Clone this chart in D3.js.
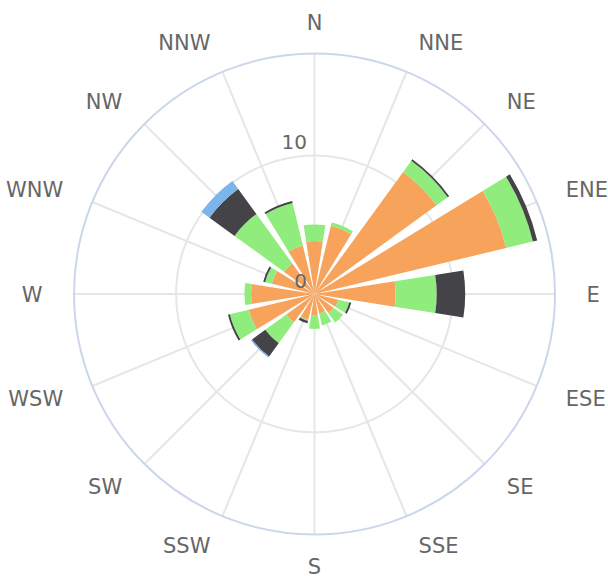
<!DOCTYPE html>
<html>
<head>
<meta charset="utf-8">
<script src="https://cdn.jsdelivr.net/npm/d3@7"></script>
<style>
body { margin: 0; background: #fff; }
svg { display: block; font-family: "DejaVu Sans", sans-serif; }
</style>
</head>
<body>
<svg></svg>
<script>
const directions = ["N", "NNE", "NE", "ENE", "E", "ESE", "SE", "SSE",
    "S", "SSW", "SW", "WSW", "W", "WNW", "NW", "NNW"];
// series stacked from the centre outwards
const orangeVals = [3.83, 5.07, 10.9, 14.25, 5.86, 1.77, 1.69, 1.44, 1.58, 1.9, 2.52, 4.89, 4.58, 3.17, 2.73, 3.6];
const greenVals = [1.2, 0.25, 1.0, 1.98, 2.97, 0.82, 0.86, 0.9, 0.94, 0.1, 1.88, 1.4, 0.49, 0.5, 4.41, 3.17];
const darkVals = [0, 0, 0.13, 0.32, 2.06, 0.14, 0, 0, 0, 0.18, 1.18, 0.14, 0, 0.14, 2.24, 0.14];
const blueVals = [0, 0, 0, 0, 0, 0, 0, 0, 0, 0, 0.1, 0, 0, 0, 0.72, 0];
const seriesKeys = ["orange", "green", "dark", "blue"];
const seriesColors = ["#f7a35c", "#90ed7d", "#434348", "#7cb5ec"];
const radialTicks = [0, 10];

const width = 608, height = 576;
const cx = 314.5, cy = 294, outerR = 240.5;

const svg = d3.select("svg")
    .attr("width", width)
    .attr("height", height);

const table = directions.map((d, i) => ({
    dir: d,
    orange: orangeVals[i],
    green: greenVals[i],
    dark: darkVals[i],
    blue: blueVals[i]
}));
const stacked = d3.stack().keys(seriesKeys)(table);

// highcharts-like max padding on the radial axis
const yMax = d3.max(table, d => d.orange + d.green + d.dark + d.blue) * 1.05;
const r = d3.scaleLinear().domain([0, yMax]).range([0, outerR]);
const step = 2 * Math.PI / directions.length;
const angle = d3.scaleBand()
    .domain(directions)
    .range([-step / 2, 2 * Math.PI - step / 2])
    .paddingInner(0.2)
    .paddingOuter(0.1);
const mid = d => angle(d) + angle.bandwidth() / 2;

const g = svg.append("g").attr("transform", `translate(${cx},${cy})`);

// radial grid lines
g.append("g")
    .selectAll("line")
    .data(directions)
    .enter().append("line")
    .attr("x1", 0).attr("y1", 0)
    .attr("x2", d => outerR * Math.sin(mid(d)))
    .attr("y2", d => -outerR * Math.cos(mid(d)))
    .attr("stroke", "#e6e6e6")
    .attr("stroke-width", 2);

g.append("g")
    .selectAll("circle")
    .data(radialTicks.filter(t => t > 0))
    .enter().append("circle")
    .attr("r", d => r(d))
    .attr("fill", "none")
    .attr("stroke", "#e6e6e6")
    .attr("stroke-width", 2);

g.append("circle")
    .attr("r", outerR)
    .attr("fill", "none")
    .attr("stroke", "#ccd6eb")
    .attr("stroke-width", 2);

// stacked wedges
const arc = d3.arc()
    .innerRadius(d => r(d[0]))
    .outerRadius(d => r(d[1]))
    .startAngle(d => angle(d.data.dir))
    .endAngle(d => angle(d.data.dir) + angle.bandwidth());

g.append("g")
    .selectAll("g")
    .data(stacked)
    .enter().append("g")
    .attr("fill", (d, i) => seriesColors[i])
    .selectAll("path")
    .data(d => d.filter(p => p[1] - p[0] > 0))
    .enter().append("path")
    .attr("d", arc);

// radial axis labels
g.append("g")
    .selectAll("text")
    .data(radialTicks)
    .enter().append("text")
    .attr("x", -7.5)
    .attr("y", d => -r(d) - 6.5)
    .attr("text-anchor", "end")
    .attr("fill", "#666")
    .style("font-size", "20px")
    .text(d => d);

// direction labels, aligned away from the pane like highcharts
const labelR = outerR + 31.5;
g.append("g")
    .selectAll("text")
    .data(directions)
    .enter().append("text")
    .attr("x", d => labelR * Math.sin(mid(d)))
    .attr("y", d => -labelR * Math.cos(mid(d)))
    .attr("dy", "0.36em")
    .attr("text-anchor", d => {
        const s = Math.sin(mid(d));
        return Math.abs(s) < 0.01 ? "middle" : (s > 0 ? "start" : "end");
    })
    .attr("fill", "#666")
    .style("font-size", "21px")
    .text(d => d);
</script>
</body>
</html>
